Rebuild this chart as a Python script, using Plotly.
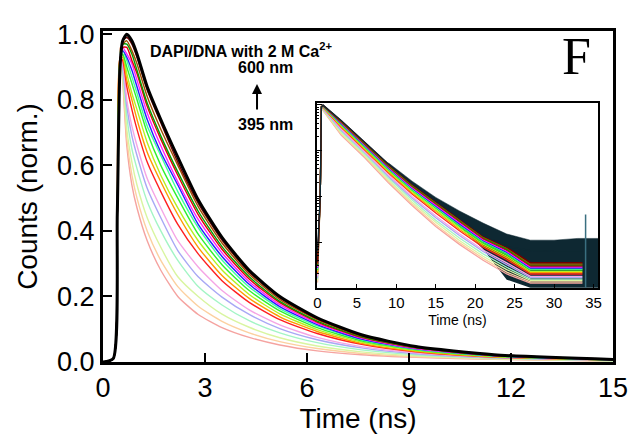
import plotly.graph_objects as go

# ---- main panel: normalized decays (time in ns) ----
time_main = [0, 0.3, 0.42, 0.5, 0.58, 0.7, 0.85, 1.0, 1.3, 1.7, 2.2, 2.8, 3.5, 4.3, 5.2, 6.3, 7.6, 9.2, 11.5, 15]

norm_01 = [0, 0.01, 0.45, 0.96, 0.86, 0.66, 0.54, 0.47, 0.37, 0.28, 0.20, 0.145, 0.105, 0.075, 0.052, 0.034, 0.022, 0.014, 0.008, 0.003]
norm_02 = [0, 0.01, 0.45, 0.96, 0.87, 0.68, 0.57, 0.50, 0.40, 0.31, 0.23, 0.17, 0.124, 0.089, 0.062, 0.041, 0.026, 0.016, 0.009, 0.003]
norm_03 = [0, 0.01, 0.45, 0.95, 0.88, 0.71, 0.61, 0.54, 0.44, 0.35, 0.26, 0.20, 0.146, 0.106, 0.074, 0.049, 0.031, 0.019, 0.010, 0.004]
norm_04 = [0, 0.01, 0.45, 0.945, 0.89, 0.75, 0.65, 0.59, 0.49, 0.40, 0.31, 0.23, 0.174, 0.126, 0.089, 0.059, 0.037, 0.022, 0.012, 0.004]
norm_05 = [0, 0.01, 0.45, 0.94, 0.90, 0.78, 0.69, 0.63, 0.53, 0.44, 0.34, 0.26, 0.198, 0.145, 0.102, 0.068, 0.043, 0.025, 0.013, 0.005]
norm_06 = [0, 0.01, 0.45, 0.935, 0.91, 0.80, 0.72, 0.66, 0.56, 0.47, 0.37, 0.29, 0.218, 0.159, 0.113, 0.075, 0.047, 0.028, 0.014, 0.005]
norm_07 = [0, 0.01, 0.45, 0.93, 0.92, 0.84, 0.77, 0.71, 0.61, 0.52, 0.42, 0.33, 0.248, 0.182, 0.129, 0.087, 0.054, 0.031, 0.015, 0.006]
norm_08 = [0, 0.01, 0.45, 0.925, 0.93, 0.86, 0.80, 0.74, 0.64, 0.55, 0.45, 0.35, 0.264, 0.194, 0.138, 0.093, 0.057, 0.033, 0.016, 0.006]
norm_09 = [0, 0.01, 0.45, 0.92, 0.94, 0.88, 0.82, 0.77, 0.67, 0.57, 0.47, 0.37, 0.281, 0.206, 0.147, 0.099, 0.061, 0.035, 0.017, 0.006]
norm_10 = [0, 0.01, 0.45, 0.918, 0.94, 0.90, 0.85, 0.80, 0.70, 0.60, 0.50, 0.39, 0.297, 0.218, 0.156, 0.105, 0.065, 0.037, 0.018, 0.0065]
norm_11 = [0, 0.01, 0.45, 0.915, 0.95, 0.92, 0.87, 0.82, 0.72, 0.63, 0.52, 0.41, 0.311, 0.229, 0.163, 0.110, 0.068, 0.039, 0.0185, 0.007]
norm_12 = [0, 0.01, 0.45, 0.913, 0.95, 0.93, 0.89, 0.84, 0.74, 0.64, 0.54, 0.42, 0.322, 0.237, 0.169, 0.114, 0.070, 0.040, 0.019, 0.007]
norm_13 = [0, 0.01, 0.45, 0.91, 0.96, 0.94, 0.91, 0.86, 0.76, 0.66, 0.55, 0.435, 0.333, 0.245, 0.175, 0.118, 0.073, 0.041, 0.020, 0.007]
norm_14 = [0, 0.01, 0.45, 0.908, 0.96, 0.96, 0.92, 0.88, 0.78, 0.68, 0.57, 0.45, 0.344, 0.253, 0.181, 0.122, 0.075, 0.043, 0.020, 0.0075]
norm_15 = [0, 0.01, 0.45, 0.906, 0.97, 0.97, 0.94, 0.89, 0.79, 0.69, 0.58, 0.46, 0.352, 0.26, 0.185, 0.125, 0.077, 0.044, 0.021, 0.0075]
norm_16 = [0, 0.01, 0.45, 0.904, 0.97, 0.98, 0.95, 0.91, 0.81, 0.71, 0.60, 0.474, 0.363, 0.268, 0.191, 0.129, 0.079, 0.045, 0.021, 0.008]
norm_17 = [0, 0.01, 0.45, 0.902, 0.98, 0.99, 0.97, 0.93, 0.83, 0.73, 0.61, 0.485, 0.372, 0.274, 0.196, 0.132, 0.081, 0.046, 0.022, 0.008]
norm_18 = [0, 0.01, 0.45, 0.90, 0.98, 1.00, 0.98, 0.94, 0.84, 0.74, 0.625, 0.495, 0.38, 0.28, 0.20, 0.135, 0.083, 0.047, 0.022, 0.008]

# ---- inset: raw counts on log scale ----
time_inset = [0, 0.35, 0.5, 0.7, 3, 6, 9, 12, 15, 18, 21, 24, 27, 30, 33.6]

counts_01 = [1.3, 100, 9600, 7590, 2200, 700, 198, 63, 22, 8.9, 4.0, 2.0, 1.26, 1.26, 1.26]
counts_02 = [1.35, 100, 9600, 7730, 2320, 740, 212, 68, 24, 9.7, 4.4, 2.2, 1.35, 1.35, 1.35]
counts_03 = [1.45, 100, 9500, 7910, 2460, 786, 228, 74, 27, 10.8, 4.9, 2.5, 1.45, 1.45, 1.45]
counts_04 = [1.55, 100, 9450, 8130, 2650, 848, 251, 83, 30, 12.3, 5.5, 2.8, 1.55, 1.55, 1.55]
counts_05 = [1.66, 100, 9400, 8340, 2830, 908, 273, 92, 34, 13.9, 6.2, 3.2, 1.66, 1.66, 1.66]
counts_06 = [1.78, 100, 9350, 8490, 2980, 957, 292, 99, 37, 15.2, 6.7, 3.5, 1.78, 1.78, 1.78]
counts_07 = [2.0, 100, 9300, 8750, 3230, 1040, 324, 112, 43, 17.6, 7.7, 4.1, 2.0, 2.0, 2.0]
counts_08 = [2.14, 100, 9250, 8910, 3380, 1090, 343, 119, 47, 19.0, 8.3, 4.5, 2.14, 2.14, 2.14]
counts_09 = [2.29, 100, 9200, 9060, 3530, 1140, 363, 128, 50, 20.6, 9.0, 4.9, 2.29, 2.29, 2.29]
counts_10 = [2.45, 100, 9180, 9200, 3690, 1190, 384, 136, 54, 22.3, 9.6, 5.3, 2.45, 2.45, 2.45]
counts_11 = [2.57, 100, 9150, 9330, 3830, 1240, 402, 144, 58, 23.8, 10.3, 5.7, 2.57, 2.57, 2.57]
counts_12 = [2.69, 100, 9130, 9440, 3940, 1280, 418, 151, 61, 25.0, 10.8, 6.0, 2.69, 2.69, 2.69]
counts_13 = [2.82, 100, 9100, 9550, 4060, 1320, 434, 157, 64, 26.4, 11.3, 6.3, 2.82, 2.82, 2.82]
counts_14 = [3.02, 100, 9080, 9640, 4180, 1360, 451, 165, 68, 27.8, 11.9, 6.7, 3.02, 3.02, 3.02]
counts_15 = [3.16, 100, 9060, 9730, 4270, 1390, 464, 170, 70, 28.9, 12.4, 7.0, 3.16, 3.16, 3.16]
counts_16 = [3.31, 100, 9040, 9840, 4400, 1430, 481, 178, 74, 30.5, 13.0, 7.4, 3.31, 3.31, 3.31]
counts_17 = [3.55, 100, 9020, 9920, 4500, 1470, 496, 184, 77, 31.7, 13.5, 7.7, 3.55, 3.55, 3.55]
counts_18 = [6.3, 100, 9000, 10000, 4600, 1500, 510, 190, 80, 33, 14, 8.0, 6.5, 6.3, 6.3]

# noisy envelope of the 600 nm decay in the inset
band_t = [9, 12, 15, 18, 21, 24, 27, 30, 33, 35.6]
band_hi = [540, 215, 95, 48, 26, 15, 11, 11, 12, 12]
band_lo = [480, 170, 62, 22, 7, 1.5, 1.0, 1.0, 1.0, 1.0]

spike_t = [34.0, 34.0]
spike_counts = [1.0, 40]

curve_colors = ['#f5a3a0', '#fcd0a0', '#d9f5a0', '#a3f5c5', '#a8a8f5', '#f5a5e5',
                '#ff2020', '#ff9900', '#b5f020', '#30f030', '#40ffa0', '#2020ff',
                '#ff20ff', '#e00000', '#00a000', '#a05000', '#700000', '#000000']

main_sets = [norm_01, norm_02, norm_03, norm_04, norm_05, norm_06, norm_07, norm_08, norm_09,
             norm_10, norm_11, norm_12, norm_13, norm_14, norm_15, norm_16, norm_17, norm_18]
inset_sets = [counts_01, counts_02, counts_03, counts_04, counts_05, counts_06, counts_07, counts_08, counts_09,
              counts_10, counts_11, counts_12, counts_13, counts_14, counts_15, counts_16, counts_17, counts_18]

fig = go.Figure()

for ys, col in zip(main_sets, curve_colors):
    w = 3 if col == '#000000' else 1.4
    fig.add_trace(go.Scatter(x=time_main, y=ys, mode='lines',
                             line=dict(color=col, width=w, shape='spline', smoothing=0.6),
                             showlegend=False, hoverinfo='skip'))

# inset
fig.add_trace(go.Scatter(x=band_t, y=band_lo, mode='lines', line=dict(width=0, color='#0e2832'),
                         xaxis='x2', yaxis='y2', showlegend=False, hoverinfo='skip'))
fig.add_trace(go.Scatter(x=band_t, y=band_hi, mode='lines', line=dict(width=0.5, color='#0e2832'),
                         fill='tonexty', fillcolor='#0e2832',
                         xaxis='x2', yaxis='y2', showlegend=False, hoverinfo='skip'))
for ys, col in zip(inset_sets, curve_colors):
    c = '#0e2832' if col == '#000000' else col
    fig.add_trace(go.Scatter(x=time_inset, y=ys, mode='lines', line=dict(color=c, width=1.3),
                             xaxis='x2', yaxis='y2', showlegend=False, hoverinfo='skip'))
fig.add_trace(go.Scatter(x=spike_t, y=spike_counts, mode='lines', line=dict(color='#3a6f80', width=1.5),
                         xaxis='x2', yaxis='y2', showlegend=False, hoverinfo='skip'))

font_main = 'Liberation Sans, Arial, sans-serif'

# the page body adds an 8 px offset, so margins are shifted to compensate
fig.update_layout(
    width=643, height=443,
    margin=dict(l=95, r=38, t=17, b=89),
    paper_bgcolor='white', plot_bgcolor='white',
    font=dict(family=font_main, color='black'),
    xaxis=dict(domain=[0, 1], range=[0, 15], tickvals=[0, 3, 6, 9, 12, 15],
               ticks='inside', ticklen=9, tickwidth=2, tickcolor='black',
               showline=True, linewidth=3, linecolor='black', mirror=True,
               showgrid=False, zeroline=False,
               tickfont=dict(size=27), title=dict(text='Time (ns)', font=dict(size=28), standoff=4)),
    yaxis=dict(domain=[0, 1], range=[0, 1.01], tickvals=[0, 0.2, 0.4, 0.6, 0.8, 1.0], tickformat='.1f',
               ticks='inside', ticklen=9, tickwidth=2, tickcolor='black',
               showline=True, linewidth=3, linecolor='black', mirror=True,
               showgrid=False, zeroline=False,
               tickfont=dict(size=27), title=dict(text='Counts (norm.)', font=dict(size=28), standoff=12)),
    xaxis2=dict(domain=[0.419, 0.971], anchor='y2', range=[-0.1, 35.6], dtick=5,
                ticks='inside', ticklen=4, tickwidth=1, tickcolor='black',
                showline=True, linewidth=1.5, linecolor='black', mirror=True,
                showgrid=False, zeroline=False,
                tickfont=dict(size=15), title=dict(text='Time (ns)', font=dict(size=14), standoff=5)),
    yaxis2=dict(domain=[0.223, 0.782], anchor='x2', type='log', range=[-0.01, 4.04], dtick=1,
                ticks='inside', ticklen=6, tickwidth=1, tickcolor='black',
                minor=dict(ticks='inside', ticklen=3, tickcolor='black', showgrid=False),
                showticklabels=False,
                showline=True, linewidth=1.5, linecolor='black', mirror=True,
                showgrid=False, zeroline=False),
)

fig.add_annotation(x=0.271, y=0.942, xref='paper', yref='paper', xanchor='center', yanchor='middle',
                   showarrow=False, text='<b>DAPI/DNA with 2 M Ca<sup>2+</sup></b>', font=dict(size=16))
fig.add_annotation(x=0.318, y=0.89, xref='paper', yref='paper', xanchor='center', yanchor='middle',
                   showarrow=False, text='<b>600 nm</b>', font=dict(size=16))
fig.add_annotation(x=0.318, y=0.717, xref='paper', yref='paper', xanchor='center', yanchor='middle',
                   showarrow=False, text='<b>395 nm</b>', font=dict(size=16))
fig.add_annotation(x=0.302, y=0.84, xref='paper', yref='paper',
                   ax=0, ay=27, axref='pixel', ayref='pixel',
                   showarrow=True, arrowhead=2, arrowwidth=2, arrowsize=1, arrowcolor='black', text='')
fig.add_annotation(x=0.929, y=0.923, xref='paper', yref='paper', xanchor='center', yanchor='middle',
                   showarrow=False, text='F', font=dict(size=52, family='Liberation Serif, Times New Roman, serif'))

fig.write_html('out.html')
